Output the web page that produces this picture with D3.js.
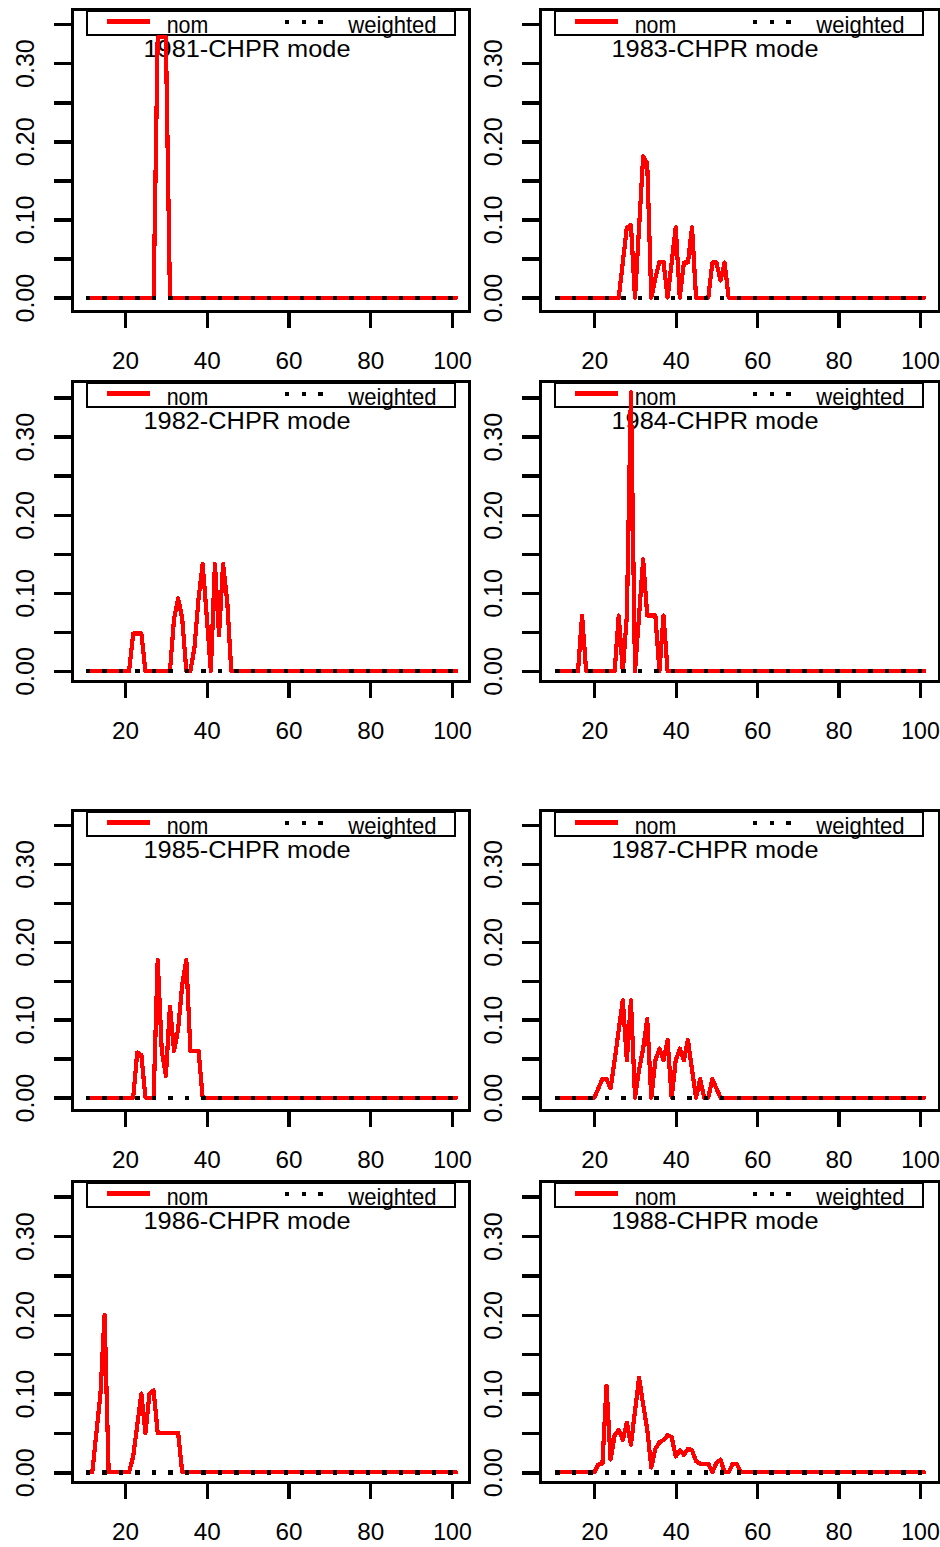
<!DOCTYPE html>
<html>
<head>
<meta charset="utf-8">
<script src="https://cdn.jsdelivr.net/npm/d3@7"></script>
<style>
  html, body { margin: 0; padding: 0; background: #fff; }
  svg { display: block; }
</style>
</head>
<body>
<svg id="chart" width="940" height="1547"></svg>
<script>
// Ages on the x axis (one value per year of age, 11 to 101)
const ages = d3.range(11, 102);

// Panel years, in reading order (left-to-right, top-to-bottom)
const years = ["1981", "1983", "1982", "1984", "1985", "1987", "1986", "1988"];

// Nominal proportions by age, ages 11..101 (ten ages per row)
const nom1981 = [
  0, 0, 0, 0, 0, 0, 0, 0, 0, 0,
  0, 0, 0, 0, 0, 0, 0, 0.333, 0.333, 0.333,
  0, 0, 0, 0, 0, 0, 0, 0, 0, 0,
  0, 0, 0, 0, 0, 0, 0, 0, 0, 0,
  0, 0, 0, 0, 0, 0, 0, 0, 0, 0,
  0, 0, 0, 0, 0, 0, 0, 0, 0, 0,
  0, 0, 0, 0, 0, 0, 0, 0, 0, 0,
  0, 0, 0, 0, 0, 0, 0, 0, 0, 0,
  0, 0, 0, 0, 0, 0, 0, 0, 0, 0,
  0
];
const nom1983 = [
  0, 0, 0, 0, 0, 0, 0, 0, 0, 0,
  0, 0, 0, 0, 0, 0, 0.045, 0.09, 0.093, 0,
  0.09, 0.181, 0.172, 0, 0.025, 0.046, 0.046, 0, 0.045, 0.09,
  0, 0.045, 0.045, 0.09, 0, 0, 0, 0, 0.045, 0.045,
  0.022, 0.045, 0, 0, 0, 0, 0, 0, 0, 0,
  0, 0, 0, 0, 0, 0, 0, 0, 0, 0,
  0, 0, 0, 0, 0, 0, 0, 0, 0, 0,
  0, 0, 0, 0, 0, 0, 0, 0, 0, 0,
  0, 0, 0, 0, 0, 0, 0, 0, 0, 0,
  0
];
const nom1982 = [
  0, 0, 0, 0, 0, 0, 0, 0, 0, 0,
  0, 0.048, 0.048, 0.048, 0, 0, 0, 0, 0, 0,
  0, 0.067, 0.093, 0.067, 0, 0, 0.03, 0.093, 0.137, 0.07,
  0, 0.137, 0.046, 0.137, 0.09, 0, 0, 0, 0, 0,
  0, 0, 0, 0, 0, 0, 0, 0, 0, 0,
  0, 0, 0, 0, 0, 0, 0, 0, 0, 0,
  0, 0, 0, 0, 0, 0, 0, 0, 0, 0,
  0, 0, 0, 0, 0, 0, 0, 0, 0, 0,
  0, 0, 0, 0, 0, 0, 0, 0, 0, 0,
  0
];
const nom1984 = [
  0, 0, 0, 0, 0, 0, 0.071, 0, 0, 0,
  0, 0, 0, 0, 0, 0.071, 0, 0.071, 0.357, 0,
  0.071, 0.143, 0.071, 0.071, 0.071, 0, 0.071, 0, 0, 0,
  0, 0, 0, 0, 0, 0, 0, 0, 0, 0,
  0, 0, 0, 0, 0, 0, 0, 0, 0, 0,
  0, 0, 0, 0, 0, 0, 0, 0, 0, 0,
  0, 0, 0, 0, 0, 0, 0, 0, 0, 0,
  0, 0, 0, 0, 0, 0, 0, 0, 0, 0,
  0, 0, 0, 0, 0, 0, 0, 0, 0, 0,
  0
];
const nom1985 = [
  0, 0, 0, 0, 0, 0, 0, 0, 0, 0,
  0, 0, 0.058, 0.055, 0, 0, 0, 0.177, 0.06, 0.028,
  0.117, 0.06, 0.088, 0.145, 0.177, 0.06, 0.06, 0.06, 0, 0,
  0, 0, 0, 0, 0, 0, 0, 0, 0, 0,
  0, 0, 0, 0, 0, 0, 0, 0, 0, 0,
  0, 0, 0, 0, 0, 0, 0, 0, 0, 0,
  0, 0, 0, 0, 0, 0, 0, 0, 0, 0,
  0, 0, 0, 0, 0, 0, 0, 0, 0, 0,
  0, 0, 0, 0, 0, 0, 0, 0, 0, 0,
  0
];
const nom1987 = [
  0, 0, 0, 0, 0, 0, 0, 0, 0, 0,
  0.012, 0.024, 0.024, 0.012, 0.048, 0.087, 0.125, 0.048, 0.125, 0,
  0.036, 0.063, 0.101, 0, 0.048, 0.063, 0.048, 0.074, 0, 0.048,
  0.063, 0.048, 0.074, 0.036, 0, 0.024, 0, 0, 0.024, 0.012,
  0, 0, 0, 0, 0, 0, 0, 0, 0, 0,
  0, 0, 0, 0, 0, 0, 0, 0, 0, 0,
  0, 0, 0, 0, 0, 0, 0, 0, 0, 0,
  0, 0, 0, 0, 0, 0, 0, 0, 0, 0,
  0, 0, 0, 0, 0, 0, 0, 0, 0, 0,
  0
];
const nom1986 = [
  0, 0, 0.05, 0.1, 0.2, 0, 0, 0, 0, 0,
  0, 0.02, 0.06, 0.1, 0.05, 0.1, 0.104, 0.05, 0.05, 0.05,
  0.05, 0.05, 0.05, 0, 0, 0, 0, 0, 0, 0,
  0, 0, 0, 0, 0, 0, 0, 0, 0, 0,
  0, 0, 0, 0, 0, 0, 0, 0, 0, 0,
  0, 0, 0, 0, 0, 0, 0, 0, 0, 0,
  0, 0, 0, 0, 0, 0, 0, 0, 0, 0,
  0, 0, 0, 0, 0, 0, 0, 0, 0, 0,
  0, 0, 0, 0, 0, 0, 0, 0, 0, 0,
  0
];
const nom1988 = [
  0, 0, 0, 0, 0, 0, 0, 0, 0, 0,
  0.01, 0.011, 0.11, 0.016, 0.047, 0.054, 0.041, 0.063, 0.035, 0.078,
  0.12, 0.086, 0.055, 0.006, 0.03, 0.038, 0.041, 0.047, 0.045, 0.02,
  0.028, 0.022, 0.03, 0.028, 0.014, 0.011, 0.011, 0.011, 0, 0.012,
  0.016, 0, 0, 0.011, 0.011, 0, 0, 0, 0, 0,
  0, 0, 0, 0, 0, 0, 0, 0, 0, 0,
  0, 0, 0, 0, 0, 0, 0, 0, 0, 0,
  0, 0, 0, 0, 0, 0, 0, 0, 0, 0,
  0, 0, 0, 0, 0, 0, 0, 0, 0, 0,
  0
];

// Weighted proportions by age, ages 11..101 (identical in every panel)
const weighted = [
  0, 0, 0, 0, 0, 0, 0, 0, 0, 0,
  0, 0, 0, 0, 0, 0, 0, 0, 0, 0,
  0, 0, 0, 0, 0, 0, 0, 0, 0, 0,
  0, 0, 0, 0, 0, 0, 0, 0, 0, 0,
  0, 0, 0, 0, 0, 0, 0, 0, 0, 0,
  0, 0, 0, 0, 0, 0, 0, 0, 0, 0,
  0, 0, 0, 0, 0, 0, 0, 0, 0, 0,
  0, 0, 0, 0, 0, 0, 0, 0, 0, 0,
  0, 0, 0, 0, 0, 0, 0, 0, 0, 0,
  0
];

const nomByYear = {
  "1981": nom1981, "1982": nom1982, "1983": nom1983, "1984": nom1984,
  "1985": nom1985, "1986": nom1986, "1987": nom1987, "1988": nom1988
};

// Axis ticks and labels
const xTicks = [20, 40, 60, 80, 100];
const yTicks = [0, 0.05, 0.1, 0.15, 0.2, 0.25, 0.3, 0.35];
const yLabelled = [0, 0.1, 0.2, 0.3];
const seriesNames = ["nom", "weighted"];

// ---- layout ----
const FONT = "'Liberation Sans', Arial, Helvetica, sans-serif";
const cols = [
  { left: 72, right: 469, x20: 125, x100: 452 },
  { left: 540, right: 939, x20: 594.3, x100: 920 }
];
const rows = [
  { top: 9, bottom: 311, y0: 297.7, y35: 24 },
  { top: 381, bottom: 681, y0: 671, y35: 397.7 },
  { top: 810, bottom: 1110, y0: 1097.7, y35: 825 },
  { top: 1181, bottom: 1482, y0: 1472.3, y35: 1196.7 }
];

const svg = d3.select("#chart");

years.forEach((year, i) => {
  const c = cols[i % 2];
  const r = rows[Math.floor(i / 2)];
  const nom = nomByYear[year];

  const x = d3.scaleLinear().domain([20, 100]).range([c.x20, c.x100]);
  const y = d3.scaleLinear().domain([0, 0.35]).range([r.y0, r.y35]);

  const g = svg.append("g").attr("class", "panel");

  // legend frame and keys
  const lg = g.append("g").attr("class", "legend");
  lg.append("rect")
    .attr("x", c.left + 15).attr("y", r.top + 2)
    .attr("width", 368).attr("height", 24)
    .attr("fill", "none").attr("stroke", "#000").attr("stroke-width", 2.6)
    .attr("shape-rendering", "crispEdges");
  lg.append("line")
    .attr("x1", c.left + 34.7).attr("x2", c.left + 78)
    .attr("y1", r.top + 12.7).attr("y2", r.top + 12.7)
    .attr("stroke", "#ff0000").attr("stroke-width", 4.5)
    .attr("shape-rendering", "crispEdges");
  lg.append("line")
    .attr("x1", c.left + 215.2).attr("x2", c.left + 248.6)
    .attr("y1", r.top + 12.7).attr("y2", r.top + 12.7)
    .attr("stroke", "#000").attr("stroke-width", 4.4)
    .attr("stroke-linecap", "square")
    .attr("stroke-dasharray", "0.01 16.6")
    .attr("shape-rendering", "crispEdges");
  lg.append("text")
    .attr("x", c.left + 94.7).attr("y", r.top + 24.3)
    .attr("font-family", FONT).attr("font-size", 24)
    .attr("textLength", 41.6).attr("lengthAdjust", "spacingAndGlyphs")
    .text(seriesNames[0]);
  lg.append("text")
    .attr("x", c.left + 276.3).attr("y", r.top + 24.3)
    .attr("font-family", FONT).attr("font-size", 24)
    .attr("textLength", 88.3).attr("lengthAdjust", "spacingAndGlyphs")
    .text(seriesNames[1]);

  // panel title
  g.append("text")
    .attr("x", c.left + 175).attr("y", r.top + 47.7)
    .attr("text-anchor", "middle")
    .attr("font-family", FONT).attr("font-size", 24.5)
    .attr("textLength", 207).attr("lengthAdjust", "spacingAndGlyphs")
    .text(`${year}-CHPR mode`);

  // series lines
  const line = d3.line().x((d, k) => x(ages[k])).y(d => y(d));
  g.append("path")
    .attr("d", line(nom))
    .attr("fill", "none").attr("stroke", "#ff0000")
    .attr("stroke-width", 4.2)
    .attr("stroke-linejoin", "round").attr("stroke-linecap", "round")
    .attr("shape-rendering", "crispEdges");
  g.append("path")
    .attr("d", line(weighted))
    .attr("fill", "none").attr("stroke", "#000")
    .attr("stroke-width", 4.4)
    .attr("stroke-linecap", "square")
    .attr("stroke-dasharray", "0.01 16.45")
    .attr("shape-rendering", "crispEdges");

  // plot frame
  g.append("rect")
    .attr("x", c.left).attr("y", r.top)
    .attr("width", c.right - c.left).attr("height", r.bottom - r.top)
    .attr("fill", "none").attr("stroke", "#000").attr("stroke-width", 3)
    .attr("shape-rendering", "crispEdges");

  // x axis
  const xa = g.append("g")
    .attr("transform", `translate(0,${r.bottom})`)
    .call(d3.axisBottom(x).tickValues(xTicks).tickSize(17).tickFormat(d3.format("d")));
  xa.select(".domain").remove();
  xa.selectAll(".tick line").attr("stroke", "#000").attr("stroke-width", 3.4)
    .attr("shape-rendering", "crispEdges");
  xa.selectAll(".tick text")
    .attr("y", 57.5).attr("dy", null)
    .attr("fill", "#000")
    .attr("font-family", FONT).attr("font-size", 24.5)
    .attr("textLength", d => (String(d).length > 2 ? 38.5 : 27))
    .attr("lengthAdjust", "spacingAndGlyphs");

  // y axis
  const ya = g.append("g")
    .attr("transform", `translate(${c.left},0)`)
    .call(d3.axisLeft(y).tickValues(yTicks).tickSize(18.5)
      .tickFormat(d => (yLabelled.some(v => Math.abs(v - d) < 1e-9) ? d3.format(".2f")(d) : "")));
  ya.select(".domain").remove();
  ya.selectAll(".tick line").attr("stroke", "#000").attr("stroke-width", 3.6)
    .attr("shape-rendering", "crispEdges");
  ya.selectAll(".tick text")
    .attr("x", 0).attr("y", 0).attr("dy", null)
    .attr("transform", "translate(-38.5,0) rotate(-90)")
    .attr("text-anchor", "middle")
    .attr("fill", "#000")
    .attr("font-family", FONT).attr("font-size", 25);
});
</script>
</body>
</html>
